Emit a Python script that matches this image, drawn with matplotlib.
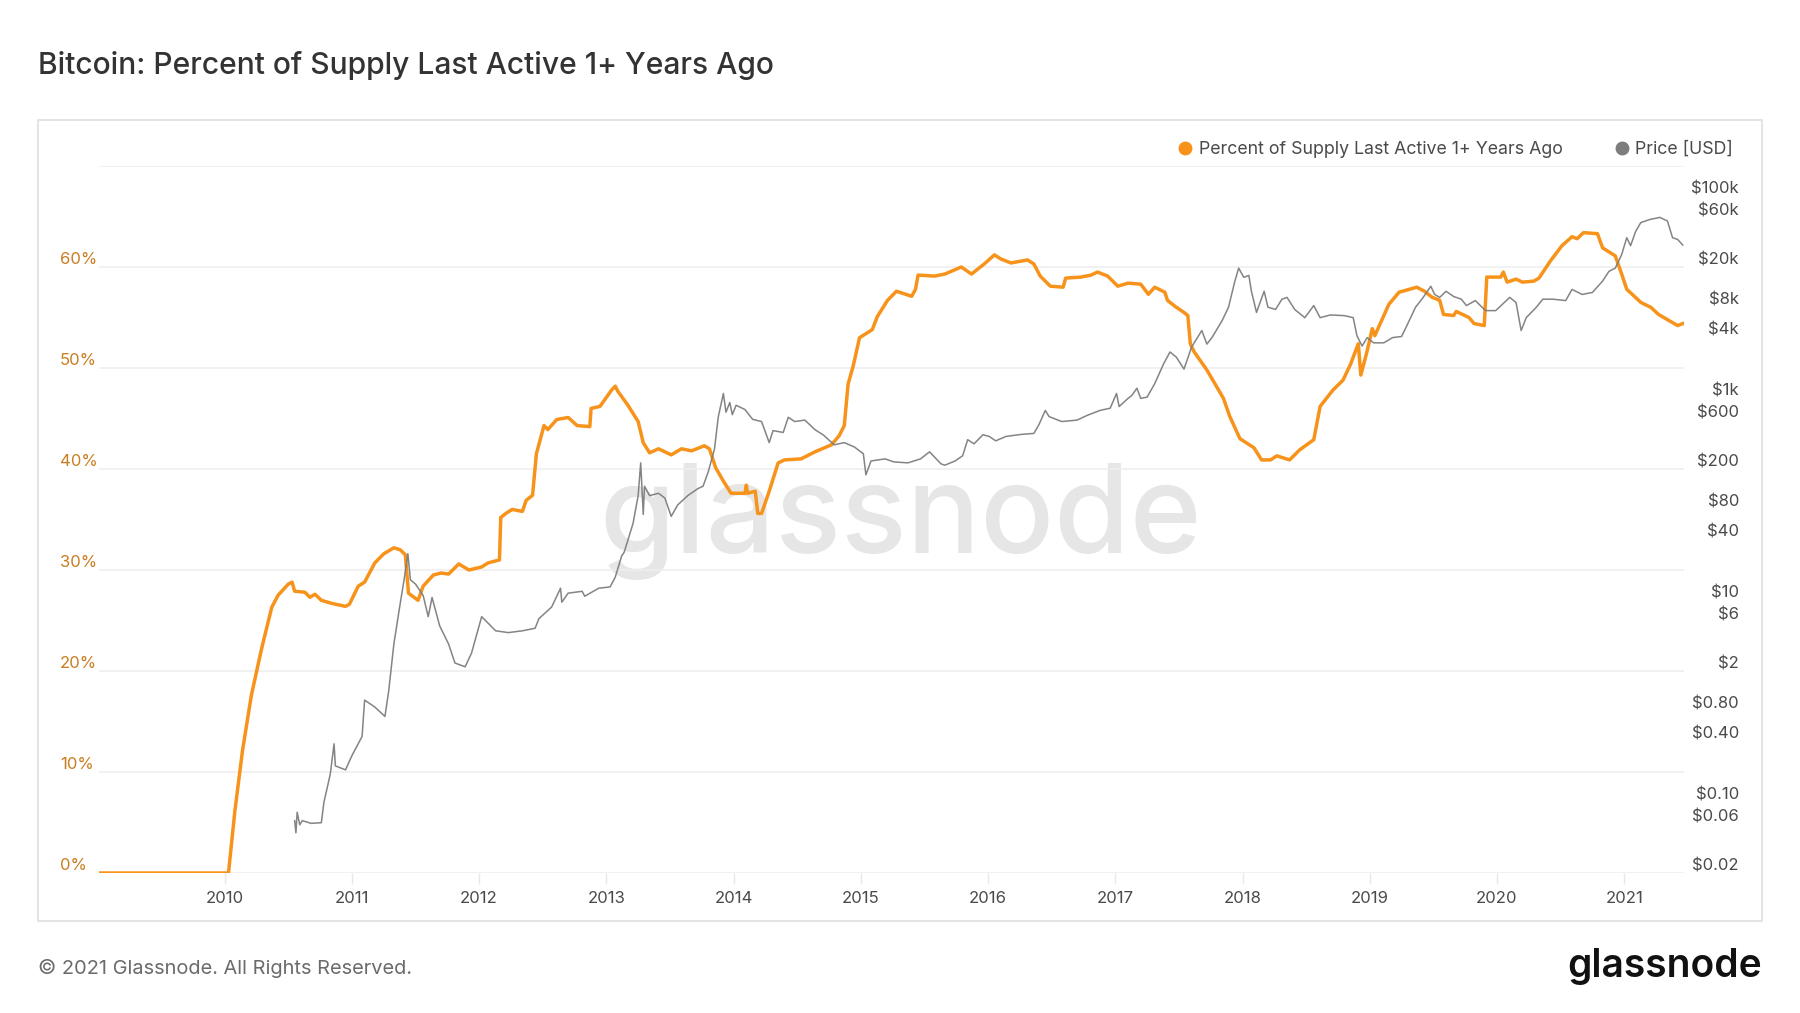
import matplotlib
matplotlib.use("Agg")
import matplotlib.pyplot as plt
import matplotlib.transforms as mtransforms
from matplotlib.patches import Rectangle
from matplotlib.lines import Line2D

plt.rcParams['font.family'] = ['Inter', 'DejaVu Sans']

# Colours
ORANGE = "#F7931A"
GRAY = "#7d7d7d"
PCT_LABEL = "#c97d1f"
TEXT_DARK = "#4a4a4a"
GRID = "#eeeeee"

# Percent of supply last active 1+ years ago (decimal year, percent)
pct_years = [
    2009.01, 2010.03, 2010.08, 2010.14, 2010.21, 2010.29, 2010.37, 2010.42, 2010.50, 2010.53,
    2010.55, 2010.63, 2010.67, 2010.71, 2010.76, 2010.84, 2010.95, 2010.98, 2011.05, 2011.10,
    2011.18, 2011.25, 2011.33, 2011.38, 2011.42, 2011.445, 2011.52, 2011.56, 2011.64, 2011.70,
    2011.76, 2011.84, 2011.92, 2012.02, 2012.07, 2012.16, 2012.17, 2012.21, 2012.26, 2012.34,
    2012.37, 2012.42, 2012.45, 2012.51, 2012.54, 2012.61, 2012.70, 2012.77, 2012.87, 2012.88,
    2012.95, 2013.04, 2013.07, 2013.09, 2013.17, 2013.25, 2013.29, 2013.34, 2013.41, 2013.51,
    2013.59, 2013.67, 2013.77, 2013.81, 2013.86, 2013.92, 2013.98, 2014.09, 2014.10, 2014.11,
    2014.17, 2014.19, 2014.22, 2014.28, 2014.35, 2014.40, 2014.53, 2014.64, 2014.77, 2014.83,
    2014.87, 2014.90, 2014.94, 2014.99, 2015.09, 2015.13, 2015.21, 2015.28, 2015.40, 2015.43,
    2015.45, 2015.58, 2015.66, 2015.79, 2015.87, 2015.97, 2016.05, 2016.10, 2016.18, 2016.31,
    2016.36, 2016.41, 2016.49, 2016.59, 2016.61, 2016.73, 2016.81, 2016.86, 2016.94, 2017.02,
    2017.10, 2017.20, 2017.26, 2017.31, 2017.39, 2017.41, 2017.47, 2017.54, 2017.57, 2017.59,
    2017.62, 2017.72, 2017.85, 2017.90, 2017.98, 2018.09, 2018.15, 2018.22, 2018.27, 2018.37,
    2018.45, 2018.56, 2018.61, 2018.71, 2018.79, 2018.85, 2018.91, 2018.93, 2018.98, 2019.02,
    2019.04, 2019.15, 2019.23, 2019.37, 2019.43, 2019.49, 2019.55, 2019.58, 2019.66, 2019.68,
    2019.78, 2019.82, 2019.90, 2019.92, 2020.03, 2020.05, 2020.08, 2020.15, 2020.20, 2020.29,
    2020.33, 2020.42, 2020.51, 2020.59, 2020.63, 2020.68, 2020.79, 2020.83, 2020.93, 2020.98,
    2021.02, 2021.13, 2021.21, 2021.27, 2021.38, 2021.42, 2021.46,
]
pct_values = [
    0.0, 0.0, 6.1, 12.1, 17.6, 22.2, 26.3, 27.5, 28.6, 28.8,
    27.9, 27.8, 27.3, 27.6, 27.0, 26.7, 26.4, 26.6, 28.4, 28.8,
    30.7, 31.6, 32.2, 32.0, 31.5, 27.7, 27.0, 28.4, 29.5, 29.7,
    29.6, 30.6, 30.0, 30.3, 30.7, 31.0, 35.2, 35.6, 36.0, 35.8,
    36.9, 37.4, 41.5, 44.3, 43.9, 44.9, 45.1, 44.3, 44.2, 46.0,
    46.2, 47.8, 48.2, 47.7, 46.3, 44.7, 42.6, 41.6, 42.0, 41.4,
    42.0, 41.8, 42.3, 42.0, 40.1, 38.8, 37.6, 37.6, 38.4, 37.6,
    37.8, 35.6, 35.6, 37.8, 40.6, 40.9, 41.0, 41.7, 42.4, 43.3,
    44.3, 48.4, 50.2, 53.0, 53.8, 55.1, 56.7, 57.6, 57.1, 57.8,
    59.2, 59.1, 59.3, 60.0, 59.3, 60.3, 61.2, 60.8, 60.4, 60.7,
    60.3, 59.1, 58.1, 58.0, 58.9, 59.0, 59.2, 59.5, 59.1, 58.1,
    58.4, 58.3, 57.3, 58.0, 57.5, 56.7, 56.1, 55.5, 55.2, 52.4,
    51.6, 49.8, 47.0, 45.2, 43.0, 42.1, 40.9, 40.9, 41.3, 40.9,
    41.9, 42.9, 46.2, 47.8, 48.8, 50.4, 52.4, 49.3, 51.7, 53.9,
    53.2, 56.3, 57.5, 58.0, 57.6, 57.0, 56.7, 55.3, 55.2, 55.6,
    55.0, 54.4, 54.2, 59.0, 59.0, 59.5, 58.5, 58.8, 58.5, 58.6,
    58.9, 60.6, 62.1, 63.0, 62.8, 63.4, 63.3, 61.9, 61.1, 59.3,
    57.8, 56.5, 56.0, 55.3, 54.5, 54.2, 54.4,
]

# Price [USD] (decimal year, price)
price_years = [
    2010.55, 2010.56, 2010.57, 2010.59, 2010.61, 2010.68, 2010.76, 2010.78, 2010.83, 2010.86,
    2010.87, 2010.95, 2011.00, 2011.08, 2011.10, 2011.18, 2011.26, 2011.29, 2011.33, 2011.37,
    2011.41, 2011.44, 2011.46, 2011.50, 2011.56, 2011.60, 2011.63, 2011.69, 2011.76, 2011.81,
    2011.89, 2011.94, 2012.02, 2012.13, 2012.23, 2012.34, 2012.44, 2012.47, 2012.57, 2012.64,
    2012.65, 2012.70, 2012.81, 2012.83, 2012.94, 2013.03, 2013.07, 2013.12, 2013.14, 2013.21,
    2013.25, 2013.27, 2013.29, 2013.30, 2013.34, 2013.41, 2013.46, 2013.51, 2013.56, 2013.64,
    2013.72, 2013.76, 2013.80, 2013.85, 2013.88, 2013.92, 2013.94, 2013.97, 2013.99, 2014.02,
    2014.09, 2014.15, 2014.22, 2014.26, 2014.28, 2014.31, 2014.39, 2014.43, 2014.48, 2014.56,
    2014.64, 2014.71, 2014.79, 2014.87, 2014.95, 2015.02, 2015.04, 2015.08, 2015.19, 2015.26,
    2015.37, 2015.47, 2015.54, 2015.63, 2015.66, 2015.74, 2015.80, 2015.84, 2015.89, 2015.96,
    2016.01, 2016.06, 2016.14, 2016.26, 2016.36, 2016.40, 2016.45, 2016.48, 2016.58, 2016.70,
    2016.78, 2016.88, 2016.96, 2017.01, 2017.03, 2017.10, 2017.13, 2017.17, 2017.20, 2017.25,
    2017.31, 2017.38, 2017.43, 2017.48, 2017.54, 2017.60, 2017.68, 2017.72, 2017.76, 2017.84,
    2017.89, 2017.94, 2017.97, 2018.01, 2018.05, 2018.07, 2018.11, 2018.17, 2018.20, 2018.26,
    2018.31, 2018.35, 2018.41, 2018.49, 2018.56, 2018.61, 2018.69, 2018.80, 2018.87, 2018.90,
    2018.94, 2018.98, 2019.03, 2019.11, 2019.18, 2019.25, 2019.29, 2019.36, 2019.42, 2019.48,
    2019.51, 2019.55, 2019.60, 2019.66, 2019.72, 2019.76, 2019.83, 2019.91, 2019.99, 2020.10,
    2020.15, 2020.19, 2020.23, 2020.31, 2020.36, 2020.44, 2020.54, 2020.59, 2020.67, 2020.75,
    2020.83, 2020.88, 2020.93, 2020.98, 2021.02, 2021.05, 2021.09, 2021.13, 2021.20, 2021.28,
    2021.34, 2021.38, 2021.42, 2021.46,
]
price_values = [
    0.066, 0.05, 0.08, 0.06, 0.066, 0.062, 0.063, 0.10, 0.19, 0.38,
    0.23, 0.21, 0.29, 0.45, 1.03, 0.88, 0.71, 1.29, 3.7, 7.8,
    16, 29, 16, 14.5, 11.2, 6.9, 10.7, 5.6, 3.7, 2.4,
    2.2, 3.0, 6.9, 5.0, 4.8, 5.0, 5.3, 6.6, 8.6, 13.2,
    9.6, 11.8, 12.3, 11.0, 13.2, 13.6, 17, 27.5, 30, 58,
    109, 230, 71, 135, 109, 115, 103, 68, 88, 109,
    128, 135, 186, 316, 660, 1120, 730, 910, 690, 855,
    775, 620, 590, 430, 365, 480, 460, 650, 590, 610,
    490, 430, 347, 365, 330, 283, 175, 240, 252, 235,
    230, 252, 296, 225, 218, 240, 270, 390, 355, 437,
    420, 380, 420, 440, 450, 550, 760, 660, 590, 610,
    680, 760, 800, 1120, 830, 1000, 1070, 1260, 1000, 1030,
    1400, 2200, 2880, 2560, 1950, 3230, 4700, 3450, 4000, 5900,
    8000, 14500, 19500, 15800, 16500, 11500, 7100, 11500, 8000, 7600,
    9600, 10000, 7600, 6300, 8300, 6300, 6700, 6600, 6300, 4150,
    3300, 4000, 3550, 3550, 4000, 4100, 5200, 8000, 10000, 12900,
    10700, 10000, 11500, 10200, 9600, 8300, 9300, 7400, 7400, 10000,
    8900, 4700, 6300, 8000, 9600, 9600, 9300, 12000, 10700, 11200,
    14500, 18100, 19500, 26500, 39000, 32500, 45000, 55000, 59000, 62000,
    57000, 39000, 37500, 33000,
]

year_ticks = list(range(2010, 2022))
pct_ticks = [0, 10, 20, 30, 40, 50, 60]
price_ticks = [100000, 60000, 20000, 8000, 4000, 1000, 600, 200, 80, 40,
               10, 6, 2, 0.8, 0.4, 0.1, 0.06, 0.02]
price_labels = ["$100k", "$60k", "$20k", "$8k", "$4k", "$1k", "$600", "$200", "$80", "$40",
                "$10", "$6", "$2", "$0.80", "$0.40", "$0.10", "$0.06", "$0.02"]

W, H = 1800, 1013
fig = plt.figure(figsize=(W / 100, H / 100), dpi=100)
fig.patch.set_facecolor("white")

# outer card frame
fig.add_artist(Rectangle((38 / W, 1 - 921 / H), (1762 - 38) / W, (921 - 120) / H,
                         transform=fig.transFigure, fill=False, edgecolor="#e2e2e2", lw=1.3))

left, right, top, bottom = 98.7, 1684, 166, 873
ax = fig.add_axes([left / W, 1 - bottom / H, (right - left) / W, (bottom - top) / H])
ax.set_xlim(2009.01, 2021.47)
ax.set_ylim(0, 70)
for s in ax.spines.values():
    s.set_visible(False)
ax.set_yticks(range(0, 71, 10))
ax.tick_params(axis="y", length=0, labelleft=False)
ax.grid(axis="y", color=GRID, lw=1.1)
ax.set_axisbelow(True)
ax.set_xticks(year_ticks)
ax.set_xticklabels([str(y) for y in year_ticks])
ax.tick_params(axis="x", length=8, width=1, color="#e8e8e8", labelsize=12,
               labelcolor=TEXT_DARK, pad=5)

# watermark
ax.text(0.506, 0.497, "glassnode", transform=ax.transAxes, ha="center", va="center",
        fontsize=88, color="#e6e6e6", fontweight="medium", zorder=0)

ax.plot(pct_years, pct_values, color=ORANGE, lw=2.5, zorder=2, solid_joinstyle="round")

# left labels sit just above their gridlines
up = mtransforms.ScaledTranslation(0, 3 / 100, fig.dpi_scale_trans)
ltrans = mtransforms.blended_transform_factory(ax.transAxes, ax.transData) + up
for p in pct_ticks:
    ax.text((60 - left) / (right - left), p, f"{p}%", transform=ltrans, ha="left",
            va="baseline", fontsize=12, color=PCT_LABEL)

ax2 = ax.twinx()
ax2.set_yscale("log")
ax2.set_ylim(0.02, 200000)
for s in ax2.spines.values():
    s.set_visible(False)
ax2.tick_params(axis="y", which="both", length=0, labelright=False)
ax2.plot(price_years, price_values, color=GRAY, lw=1.1, alpha=0.95, zorder=3)

rtrans = mtransforms.blended_transform_factory(ax2.transAxes, ax2.transData) + up
for v, lab in zip(price_ticks, price_labels):
    ax2.text((1739 - left) / (right - left), v, lab, transform=rtrans, ha="right",
             va="baseline", fontsize=12, color=TEXT_DARK)

# title
fig.text(38 / W, 1 - 65 / H, "Bitcoin: Percent of Supply Last Active 1+ Years Ago",
         ha="left", va="center", fontsize=21.6, color="#333333", fontweight="medium")

# legend
for cx, tx, col, lab in [(1185, 1199, ORANGE, "Percent of Supply Last Active 1+ Years Ago"),
                         (1622, 1635, GRAY, "Price [USD]")]:
    fig.add_artist(Line2D([cx / W], [1 - 148 / H], marker="o", markersize=9, color=col,
                          transform=fig.transFigure, linestyle="none"))
    fig.text(tx / W, 1 - 149 / H, lab, ha="left", va="center", fontsize=12.8, color=TEXT_DARK)

# footer
fig.text(38 / W, 1 - 968 / H, "\u00a9 2021 Glassnode. All Rights Reserved.",
         ha="left", va="center", fontsize=14.4, color="#6b6b6b")
fig.text(1762 / W, 1 - 966 / H, "glassnode", ha="right", va="center",
         fontsize=28, color="#111111", fontweight="semibold")

fig.savefig("out.png", dpi=100, facecolor="white")
